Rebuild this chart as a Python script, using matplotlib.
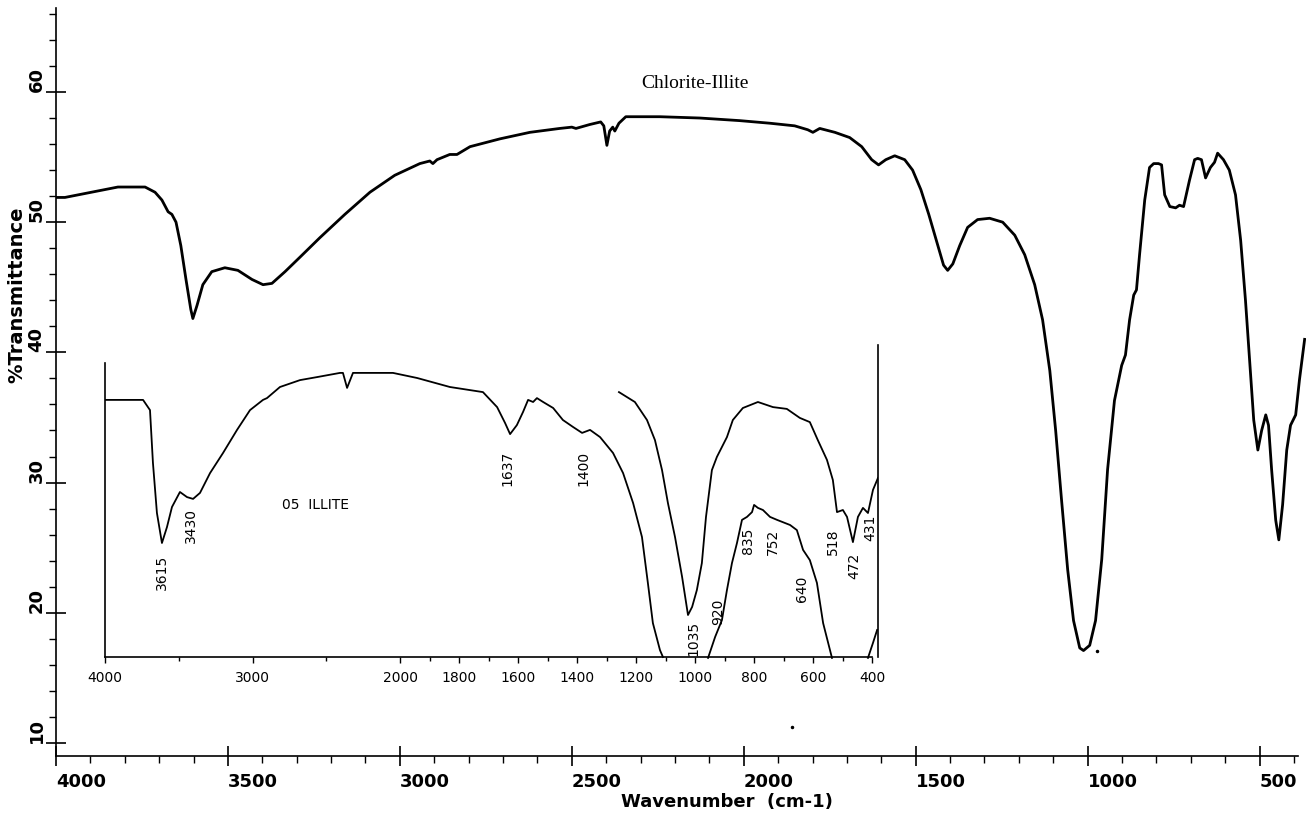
import numpy as np
import matplotlib
matplotlib.use('Agg')
import matplotlib.pyplot as plt
from matplotlib.ticker import FixedLocator, MultipleLocator

W, H = 1315, 816

# main spectrum, chlorite-illite (wavenumber cm-1, %T)
main_wn = [4000, 3974, 3820, 3741, 3712, 3692, 3674, 3663, 3651, 3637,
           3622, 3608, 3602, 3590, 3573, 3547, 3509, 3471, 3430, 3398,
           3372, 3334, 3291, 3233, 3160, 3087, 3015, 2942, 2913, 2904,
           2892, 2855, 2834, 2796, 2709, 2622, 2535, 2500, 2488, 2448,
           2416, 2407, 2398, 2390, 2381, 2375, 2363, 2343, 2244, 2128,
           2012, 1924, 1852, 1814, 1799, 1779, 1735, 1692, 1657, 1628,
           1608, 1587, 1561, 1532, 1509, 1485, 1462, 1439, 1419, 1407,
           1392, 1372, 1349, 1320, 1285, 1247, 1212, 1183, 1154, 1131,
           1110, 1093, 1076, 1058, 1041, 1023, 1012, 994, 977, 959,
           942, 922, 901, 890, 878, 866, 858, 849, 834, 820,
           808, 794, 785, 776, 761, 744, 733, 721, 704, 689,
           680, 669, 657, 643, 631, 622, 605, 588, 570, 555,
           541, 529, 517, 505, 494, 482, 474, 465, 453, 444,
           433, 421, 410, 395, 384, 369]
main_t = [51.9, 51.9, 52.7, 52.7, 52.3, 51.7, 50.8, 50.6, 50.0, 48.2,
          45.6, 43.3, 42.6, 43.6, 45.2, 46.2, 46.5, 46.3, 45.6, 45.2,
          45.3, 46.2, 47.3, 48.8, 50.6, 52.3, 53.6, 54.5, 54.7, 54.5,
          54.8, 55.2, 55.2, 55.8, 56.4, 56.9, 57.2, 57.3, 57.2, 57.5,
          57.7, 57.4, 55.9, 57.0, 57.3, 57.0, 57.6, 58.1, 58.1, 58.0,
          57.8, 57.6, 57.4, 57.1, 56.9, 57.2, 56.9, 56.5, 55.8, 54.8,
          54.4, 54.8, 55.1, 54.8, 54.0, 52.5, 50.6, 48.5, 46.7, 46.3,
          46.8, 48.2, 49.6, 50.2, 50.3, 50.0, 49.0, 47.5, 45.2, 42.5,
          38.6, 34.0, 28.7, 23.3, 19.4, 17.3, 17.1, 17.5, 19.4, 24.1,
          31.0, 36.3, 39.0, 39.8, 42.5, 44.4, 44.8, 47.5, 51.7, 54.2,
          54.5, 54.5, 54.4, 52.1, 51.2, 51.1, 51.3, 51.2, 53.2, 54.8,
          54.9, 54.8, 53.4, 54.2, 54.6, 55.3, 54.8, 54.0, 52.1, 48.6,
          44.0, 39.4, 34.8, 32.5, 34.0, 35.2, 34.4, 31.0, 27.1, 25.6,
          28.3, 32.5, 34.4, 35.2, 37.9, 41.0]

# stray dots on the scan
dots_wn = [1860, 974]
dots_t = [11.2, 17.1]

main_xticks = [4000, 3500, 3000, 2500, 2000, 1500, 1000, 500]
main_yticks = [10, 20, 30, 40, 50, 60]
main_ylabels = ['10', '20', '30', '40', '50', '60']

# inset: 05 illite reference spectrum (wavenumber, relative %T)
illA_wn = [4000, 3742, 3695, 3675, 3648, 3614, 3580, 3546, 3492, 3444,
           3403, 3356, 3288, 3200, 3105, 3017, 2929, 2902, 2814, 2678,
           2563, 2407, 2387, 2359, 2319, 2224, 2048, 1942, 1831, 1719,
           1671, 1644, 1627, 1604, 1583, 1566, 1549, 1536, 1515, 1481,
           1448, 1414, 1383, 1356, 1322, 1278, 1244, 1210, 1180, 1160,
           1143, 1119, 1109]
illA_t = [85.7, 85.7, 82.3, 64.7, 48.0, 38.0, 43.3, 50.0, 55.0, 53.3,
          52.7, 54.7, 61.3, 68.0, 75.7, 82.3, 85.7, 86.3, 90.0, 92.3,
          93.3, 94.7, 94.7, 89.7, 94.7, 94.7, 94.7, 93.0, 90.0, 88.3,
          83.3, 78.0, 74.3, 77.3, 81.7, 85.7, 85.0, 86.3, 85.0, 83.0,
          79.0, 76.7, 74.7, 75.7, 73.3, 68.0, 61.3, 51.3, 40.0, 24.7,
          11.3, 2.3, 0.0]
illB_wn = [1258, 1204, 1163, 1136, 1112, 1092, 1068, 1044, 1024, 1010,
           994, 977, 963, 943, 926, 892, 872, 838, 787, 736,
           689, 645, 611, 584, 553, 533, 519, 499, 485, 465,
           448, 431, 414, 397, 380]
illB_t = [88.3, 85.0, 79.0, 72.3, 62.3, 51.3, 40.0, 26.7, 14.0, 16.7,
          22.3, 31.3, 46.7, 62.3, 66.7, 73.3, 79.0, 83.0, 85.0, 83.3,
          82.7, 79.7, 78.3, 72.3, 65.7, 59.0, 48.3, 49.0, 46.7, 38.3,
          46.7, 49.7, 48.0, 55.7, 59.7]
illC_wn = [956, 932, 909, 892, 875, 858, 841, 824, 807, 800,
           787, 770, 746, 722, 678, 655, 634, 611, 587, 566, 536]
illC_t = [-0.3, 6.7, 12.3, 22.3, 31.3, 38.0, 45.7, 46.7, 48.3, 50.7,
          49.7, 49.0, 46.7, 45.7, 44.0, 42.3, 35.7, 32.3, 24.7, 11.3, -0.3]
illD_wn = [414, 397, 383]
illD_t = [-0.3, 4.7, 9.0]

inset_ticks = [4000, 3000, 2000, 1800, 1600, 1400, 1200, 1000, 800, 600, 400]
peak_labels = ['3615', '3430', '1637', '1400', '1035', '920', '835', '752',
               '640', '518', '472', '431']
peak_wn = [3614, 3417, 1637, 1380, 1007, 922, 820, 736, 637, 532, 461, 407]
peak_t = [28.3, 43.7, 63, 63, 6.3, 15, 38.7, 38.3, 22.7, 38.3, 30.3, 43]


def px_axes(left, right, top, bottom):
    return [left / W, 1 - bottom / H, (right - left) / W, (bottom - top) / H]


plotter = dict(family='DejaVu Sans', weight='bold', size=13)
narrow = ['Liberation Sans Narrow', 'DejaVu Sans']

fig = plt.figure(figsize=(W / 100, H / 100), dpi=100)

# main spectrum
ax = fig.add_axes(px_axes(56, 1306, 8, 756))
ax.patch.set_alpha(0)
ax.plot(main_wn, main_t, color='black', lw=2.0, solid_joinstyle='round')
ax.plot(dots_wn, dots_t, 'k.', ms=3)
ax.set_xlim(4000, 365)
ax.set_ylim(9.0, 66.45)
for s in ['top', 'right']:
    ax.spines[s].set_visible(False)
ax.spines['bottom'].set_bounds(4000, 389)
ax.spines['left'].set_linewidth(1.2)
ax.spines['bottom'].set_linewidth(1.2)

ax.xaxis.set_major_locator(FixedLocator(main_xticks))
ax.xaxis.set_minor_locator(MultipleLocator(100))
ax.yaxis.set_major_locator(FixedLocator(main_yticks))
ax.yaxis.set_minor_locator(MultipleLocator(2))
ax.tick_params(which='major', direction='inout', length=14, width=1.2)
ax.tick_params(which='minor', direction='out', length=5, width=1)
ax.tick_params(axis='x', which='major', pad=5)
ax.tick_params(axis='y', which='major', pad=7)
ax.set_xticklabels([str(v) for v in main_xticks], ha='left', **plotter)
ax.set_yticklabels(main_ylabels, rotation=90, rotation_mode='anchor',
                   ha='left', va='center', **plotter)

fig.text(727 / W, 1 - 802 / H, 'Wavenumber  (cm-1)', ha='center', va='center',
         **plotter)
fig.text(17 / W, 1 - 295 / H, '%Transmittance', rotation=90, ha='center',
         va='center', family='DejaVu Sans', weight='bold', size=14)
fig.text(695 / W, 1 - 83 / H, 'Chlorite-Illite', ha='center', va='center',
         family=['Liberation Serif', 'DejaVu Serif'], size=14)


# inset, chart paper with 2x expansion below 2000 cm-1
# (increasing in wavenumber, so the limits below run 4000 -> 380 left to right)
def fwd(wn):
    wn = np.asarray(wn, dtype=float)
    return np.where(wn >= 2000, wn - 4000, 2 * (wn - 2000) - 2000)


def inv(u):
    u = np.asarray(u, dtype=float)
    return np.where(u >= -2000, u + 4000, (u + 2000) / 2 + 2000)


ax_in = fig.add_axes(px_axes(105, 878, 342, 663))
ax_in.patch.set_alpha(0)
ax_in.set_xscale('function', functions=(fwd, inv))
ax_in.set_xlim(4000, 380)
ax_in.set_ylim(-2, 105)
for wn, t in [(illA_wn, illA_t), (illB_wn, illB_t), (illC_wn, illC_t),
              (illD_wn, illD_t)]:
    ax_in.plot(wn, t, color='black', lw=1.3)

ax_in.spines['top'].set_visible(False)
ax_in.spines['bottom'].set_position(('data', 0))
ax_in.spines['bottom'].set_bounds(4000, 400)
ax_in.spines['left'].set_bounds(0, 98)
ax_in.spines['right'].set_bounds(0, 104)
for s in ['bottom', 'left', 'right']:
    ax_in.spines[s].set_linewidth(1.2)
ax_in.xaxis.set_major_locator(FixedLocator(inset_ticks))
ax_in.xaxis.set_minor_locator(FixedLocator(
    [3500, 2500] + list(range(1900, 400, -100))))
ax_in.tick_params(axis='x', which='both', direction='out', length=4,
                  width=1, pad=6)
ax_in.tick_params(axis='x', which='minor', length=3)
ax_in.tick_params(axis='y', left=False, right=False, labelleft=False)
ax_in.set_xticklabels([str(v) for v in inset_ticks], family=narrow, size=10)

for lab, wn, t in zip(peak_labels, peak_wn, peak_t):
    ax_in.text(wn, t, lab, rotation=90, ha='center', va='center',
               family=narrow, size=10)
ax_in.text(2570, 50.7, '05  ILLITE', ha='center', va='center',
           family=narrow, size=10)

fig.savefig('out.png', dpi=100)
